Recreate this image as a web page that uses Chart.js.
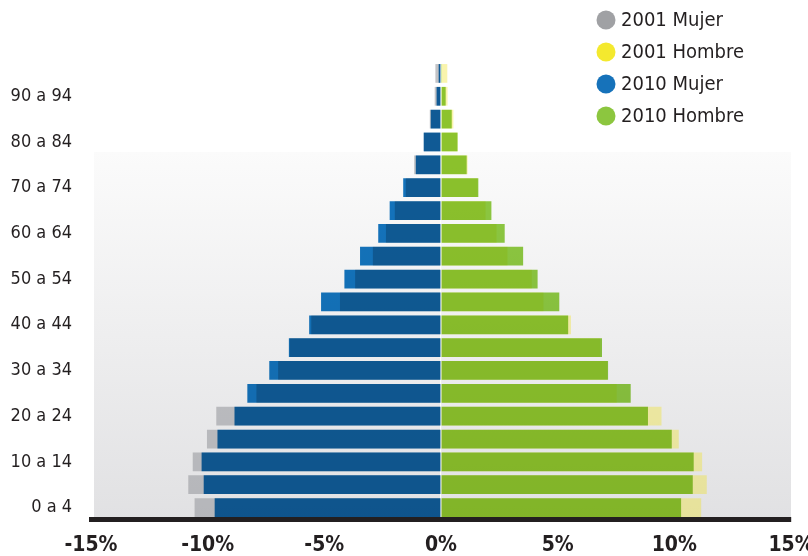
<!DOCTYPE html>
<html>
<head>
<meta charset="utf-8">
<script src="https://cdn.jsdelivr.net/npm/chart.js@4.4.1/dist/chart.umd.min.js"></script>
<style>
  html, body { margin: 0; padding: 0; background: #ffffff; }
  #wrap { width: 808px; height: 556px; }
</style>
</head>
<body>
<div id="wrap"><canvas id="piramide"></canvas></div>
<script>
    // Grupos de edad, de abajo hacia arriba
    var edades = ["0 a 4", "5 a 9", "10 a 14", "15 a 19", "20 a 24", "25 a 29", "30 a 34",
        "35 a 39", "40 a 44", "45 a 49", "50 a 54", "55 a 59", "60 a 64", "65 a 69",
        "70 a 74", "75 a 79", "80 a 84", "85 a 89", "90 a 94", "95 y más"];

    // Porcentaje de la población en cada grupo
    var mujer2001 = [10.56, 10.83, 10.64, 10.03, 9.63, 7.91, 6.98, 6.48, 5.56, 4.33,
        3.68, 2.92, 2.36, 1.98, 1.51, 1.15, 0.74, 0.48, 0.27, 0.24];
    var hombre2001 = [11.15, 11.39, 11.19, 10.19, 9.45, 7.53, 7.12, 6.82, 5.57, 4.39,
        3.89, 2.85, 2.38, 1.91, 1.57, 1.14, 0.71, 0.53, 0.28, 0.27];
    var mujer2010 = [9.70, 10.17, 10.26, 9.58, 8.85, 8.30, 7.36, 6.52, 5.65, 5.14,
        4.14, 3.47, 2.69, 2.20, 1.62, 1.08, 0.74, 0.44, 0.19, 0.10];
    var hombre2010 = [10.29, 10.79, 10.83, 9.89, 8.87, 8.13, 7.16, 6.90, 5.45, 5.07,
        4.14, 3.52, 2.73, 2.16, 1.60, 1.10, 0.71, 0.46, 0.20, 0.04];

    var ticksX = [-15, -10, -5, 0, 5, 10, 15];

    var FUENTE = "'Liberation Sans Narrow', 'DejaVu Sans Condensed', 'Arial Narrow', sans-serif";
    var TINTA = "#231f20";

    // Leyenda: nombre y color del punto
    var leyenda = [
        { texto: "2001 Mujer", color: "#a0a1a4" },
        { texto: "2001 Hombre", color: "#f4e92e" },
        { texto: "2010 Mujer", color: "#1672ba" },
        { texto: "2010 Hombre", color: "#8cc63f" }
    ];

    // Fondo degradado del área de dibujo
    var fondoPlugin = {
        id: 'fondo',
        beforeDraw: function (chart) {
            var ctx = chart.ctx, a = chart.chartArea;
            var y0 = 152;
            var g = ctx.createLinearGradient(0, y0, 0, a.bottom);
            g.addColorStop(0, "#fbfbfb");
            g.addColorStop(1, "#e1e1e3");
            ctx.save();
            ctx.fillStyle = g;
            ctx.fillRect(a.left + 3, y0, a.right - a.left - 3, a.bottom - y0);
            ctx.restore();
        }
    };

    // Las series 2010 se mezclan en modo multiplicar sobre las de 2001
    var mezclaPlugin = {
        id: 'mezcla',
        beforeDatasetDraw: function (chart, args) {
            if (chart.data.datasets[args.index].mezcla) {
                chart.ctx.save();
                chart.ctx.globalCompositeOperation = 'multiply';
            }
        },
        afterDatasetDraw: function (chart, args) {
            if (chart.data.datasets[args.index].mezcla) {
                chart.ctx.restore();
            }
        }
    };

    // Leyenda en columna arriba a la derecha
    var leyendaPlugin = {
        id: 'leyendaPropia',
        afterDraw: function (chart) {
            var ctx = chart.ctx;
            ctx.save();
            ctx.font = "20px " + FUENTE;
            ctx.textBaseline = 'middle';
            leyenda.forEach(function (item, i) {
                var y = 20 + i * 32;
                ctx.beginPath();
                ctx.arc(606, y, 9.5, 0, Math.PI * 2);
                ctx.fillStyle = item.color;
                ctx.fill();
                ctx.fillStyle = TINTA;
                ctx.fillText(item.texto, 621, y + 1);
            });
            ctx.restore();
        }
    };

    document.addEventListener('DOMContentLoaded', function () {
        var negativo = function (v) { return -v; };

        var data = {
            labels: edades,
            datasets: [{
                    label: "2001 Mujer",
                    data: mujer2001.map(negativo),
                    backgroundColor: "rgba(150, 151, 156, 0.58)",
                    order: 1
                },
                {
                    label: "2001 Hombre",
                    data: hombre2001,
                    backgroundColor: "rgba(240, 226, 40, 0.38)",
                    order: 1
                },
                {
                    label: "2010 Mujer",
                    data: mujer2010.map(negativo),
                    backgroundColor: "rgb(20, 118, 192)",
                    mezcla: true,
                    order: 0
                },
                {
                    label: "2010 Hombre",
                    data: hombre2010,
                    backgroundColor: "rgb(144, 204, 66)",
                    mezcla: true,
                    order: 0
                }
            ]
        };

        var options = {
            indexAxis: 'y',
            responsive: true,
            maintainAspectRatio: false,
            animation: false,
            layout: { padding: { top: 62, right: 17, left: 0, bottom: 0 } },
            datasets: {
                bar: {
                    grouped: false,
                    barPercentage: 0.82,
                    categoryPercentage: 1.0,
                    borderWidth: 0
                }
            },
            plugins: {
                legend: { display: false },
                tooltip: { enabled: false }
            },
            scales: {
                x: {
                    min: -15,
                    max: 15,
                    z: 1,
                    afterBuildTicks: function (scale) {
                        scale.ticks = ticksX.map(function (v) { return { value: v }; });
                    },
                    afterFit: function (scale) {
                        scale.height = 37;
                        scale.paddingLeft = 0;
                        scale.paddingRight = 0;
                    },
                    grid: {
                        drawTicks: false,
                        lineWidth: 1.2,
                        color: function (c) { return c.tick && c.tick.value === 0 ? '#ffffff' : 'rgba(0,0,0,0)'; }
                    },
                    border: { display: true, color: TINTA, width: 5 },
                    ticks: {
                        padding: 14,
                        color: TINTA,
                        font: { family: FUENTE, size: 21, weight: 'bold' },
                        callback: function (v) { return v + '%'; }
                    }
                },
                y: {
                    reverse: true,
                    afterFit: function (scale) { scale.width = 91; },
                    grid: { display: false, drawTicks: false },
                    border: { display: false },
                    ticks: {
                        autoSkip: false,
                        padding: 19,
                        color: TINTA,
                        font: { family: FUENTE, size: 18 },
                        callback: function (v, i) { return i % 2 === 0 ? edades[i] : ''; }
                    }
                }
            }
        };

        var ctx = document.getElementById('piramide').getContext('2d');
        new Chart(ctx, {
            type: 'bar',
            data: data,
            options: options,
            plugins: [fondoPlugin, mezclaPlugin, leyendaPlugin]
        });
    });
</script>
</body>
</html>
